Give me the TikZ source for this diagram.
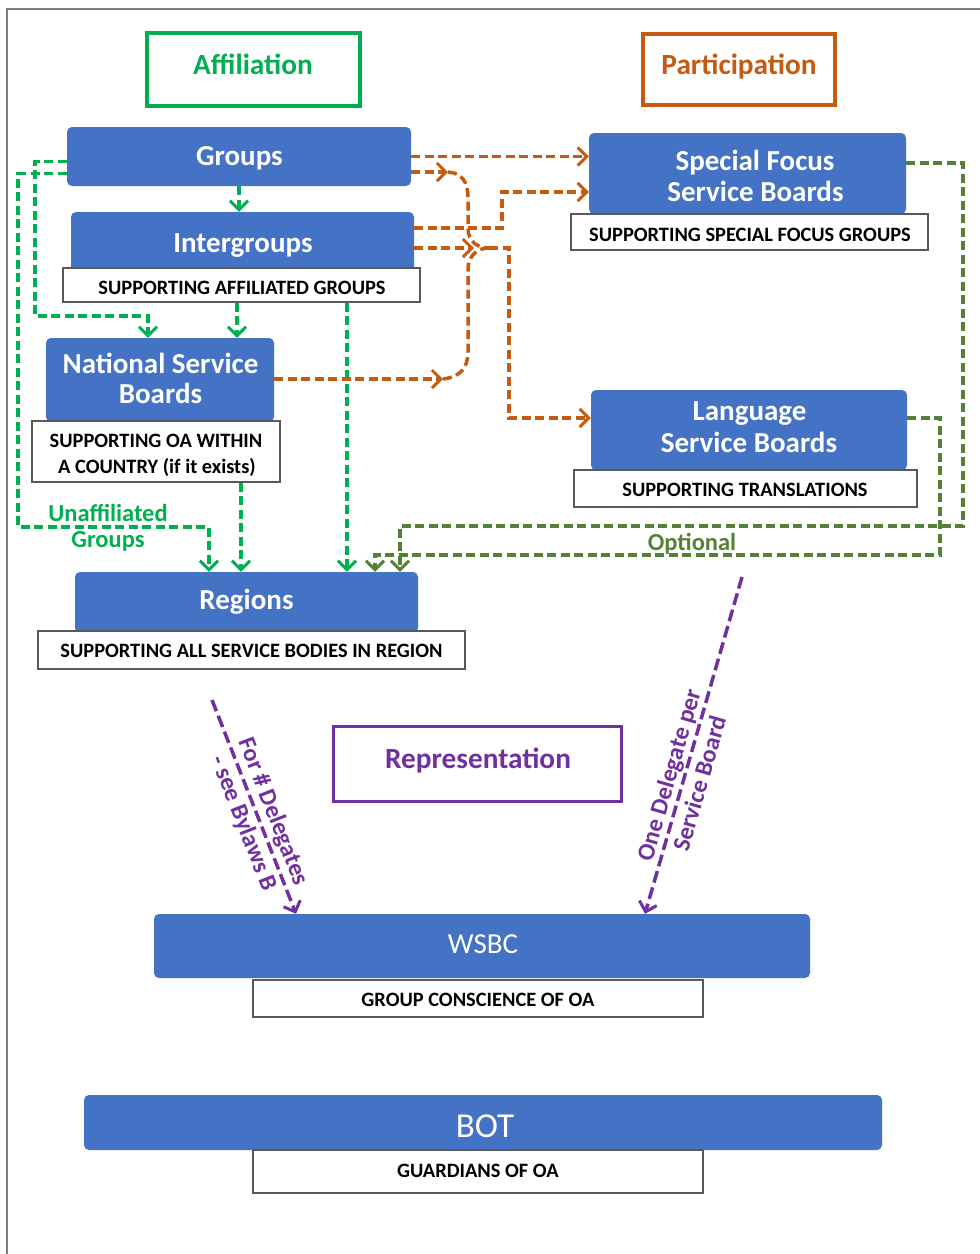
\documentclass[tikz,border=0pt]{standalone}
\usepackage{fontspec}
\setmainfont{Carlito}
\usetikzlibrary{arrows.meta,calc}
\definecolor{boxblue}{HTML}{4472C4}
\definecolor{affgreen}{HTML}{00B050}
\definecolor{optgreen}{HTML}{548235}
\definecolor{partorange}{HTML}{C55A11}
\definecolor{reppurple}{HTML}{7030A0}
\definecolor{labgray}{HTML}{595959}
\definecolor{framegray}{HTML}{808080}
\tikzset{
  bluebox/.style={rectangle, rounded corners=5pt, fill=boxblue, inner sep=0pt},
  bluetext/.style={text=white, font=\fontsize{29}{33}\selectfont\bfseries, anchor=base, inner sep=0pt},
  labelbox/.style={rectangle, draw=labgray, line width=1.2pt, fill=white, inner sep=0pt},
  labeltext/.style={text=black, font=\fontsize{20.4}{26}\selectfont\bfseries, anchor=base, inner sep=0pt},
  headbox/.style={rectangle, line width=3.2pt, fill=white, inner sep=0pt},
  headtext/.style={font=\fontsize{29.3}{33}\selectfont\bfseries, anchor=base, inner sep=0pt},
  tipv/.style={-{Straight Barb[length=9pt,width=18pt,line width=3pt]}},
  gline/.style={draw=affgreen, line width=3.5pt, dash pattern=on 9pt off 4.5pt},
  oline/.style={draw=optgreen, line width=3.5pt, dash pattern=on 9pt off 4.5pt},
  rline/.style={draw=partorange, line width=3.5pt, dash pattern=on 9pt off 4.5pt},
  pline/.style={draw=reppurple, line width=3.5pt, dash pattern=on 12pt off 5pt},
  ptext/.style={text=reppurple, font=\fontsize{24.5}{32}\selectfont\bfseries, align=center, inner sep=0pt},
}
\begin{document}
\begin{tikzpicture}[x=1pt,y=-1pt]
\useasboundingbox (0,0) rectangle (980,1254);
\fill[white] (0,0) rectangle (980,1254);
% page frame
\draw[framegray, line width=1.5pt] (7,1254) -- (7,9) -- (980,9);

% header boxes
\node[headbox, draw=affgreen, minimum width=213, minimum height=73] (aff) at (253.5,69.5) {};
\node[headtext, text=affgreen] (afft) at (253,74) {Affiliation};
\node[headbox, draw=partorange, minimum width=192, minimum height=71] (part) at (739,69.5) {};
\node[headtext, text=partorange] (partt) at (739,74) {Participation};
\node[headbox, draw=reppurple, line width=3pt, minimum width=288, minimum height=75] (rep) at (477,763.5) {};
\node[headtext, text=reppurple] (rept) at (478,768) {Representation};

% blue boxes
\node[bluebox, minimum width=344, minimum height=59] (groups) at (239,156.5) {};
\node[bluetext] (groupst) at (239.5,165.5) {Groups};
\node[bluebox, minimum width=343, minimum height=60] (inter) at (242.5,242) {};
\node[bluetext] (intert) at (243,252) {Intergroups};
\node[bluebox, minimum width=228, minimum height=84] (nsb) at (160,380) {};
\node[bluetext] (nsbt1) at (160.5,373) {National Service};
\node[bluetext] (nsbt2) at (160.5,403) {Boards};
\node[bluebox, minimum width=343, minimum height=61] (regions) at (246.5,602.5) {};
\node[bluetext] (regionst) at (246.5,609) {Regions};
\node[bluebox, minimum width=317, minimum height=81] (sfsb) at (747.5,173.5) {};
\node[bluetext] (sfsbt1) at (755,170) {Special Focus};
\node[bluetext] (sfsbt2) at (755.5,201) {Service Boards};
\node[bluebox, minimum width=316, minimum height=80] (lsb) at (749,430) {};
\node[bluetext] (lsbt1) at (749.5,420) {Language};
\node[bluetext] (lsbt2) at (749,452) {Service Boards};
\node[bluebox, minimum width=656, minimum height=64] (wsbc) at (482,946) {};
\node[bluetext, font=\fontsize{29}{33}\selectfont] (wsbct) at (483,953) {WSBC};
\node[bluebox, minimum width=798, minimum height=55] (bot) at (483,1122.5) {};
\node[bluetext, font=\fontsize{35}{38}\selectfont] (bott) at (485,1137) {BOT};

% label boxes
\node[labelbox, minimum width=357, minimum height=34] (labinter) at (241.5,285) {};
\node[labeltext] (labintert) at (242,294) {SUPPORTING AFFILIATED GROUPS};
\node[labelbox, minimum width=248, minimum height=61] (labnsb) at (156,451.5) {};
\node[labeltext] (labnsbt1) at (156,447) {SUPPORTING OA WITHIN};
\node[labeltext] (labnsbt2) at (157,473) {A COUNTRY (if it exists)};
\node[labelbox, minimum width=427, minimum height=38] (labreg) at (251.5,650) {};
\node[labeltext] (labregt) at (251.5,657) {SUPPORTING ALL SERVICE BODIES IN REGION};
\node[labelbox, minimum width=357, minimum height=36] (labsf) at (749.5,232) {};
\node[labeltext] (labsft) at (750,241) {SUPPORTING SPECIAL FOCUS GROUPS};
\node[labelbox, minimum width=343, minimum height=37] (lablang) at (745.5,488.5) {};
\node[labeltext] (lablangt) at (745,496) {SUPPORTING TRANSLATIONS};
\node[labelbox, minimum width=450, minimum height=37] (labwsbc) at (478,998.5) {};
\node[labeltext] (labwsbct) at (478,1006) {GROUP CONSCIENCE OF OA};
\node[labelbox, minimum width=450, minimum height=43] (labbot) at (478,1171.5) {};
\node[labeltext] (labbott) at (478,1177) {GUARDIANS OF OA};

% helper coordinates
\coordinate (x148) at (148,0);
\coordinate (x209) at (209,0);
\coordinate (x237) at (237,0);
\coordinate (x241) at (241,0);
\coordinate (x347) at (347,0);
\coordinate (x375) at (375,0);
\coordinate (x400) at (400,0);
\coordinate (x296) at (296,0);
\coordinate (x645) at (645,0);

% green affiliation connectors
\draw[gline, tipv] (groups.south) -- (groups.south |- inter.north);
\draw[gline, tipv] ($(groups.west)+(0,5)$) -| (35,316) -| (x148 |- nsb.north);
\draw[gline, tipv] ($(groups.west)+(0,17)$) -| (18,527) -| (x209 |- regions.north);
\draw[gline, tipv] (x237 |- labinter.south) -- (x237 |- nsb.north);
\draw[gline, tipv] (x347 |- labinter.south) -- (x347 |- regions.north);
\draw[gline, tipv] (x241 |- labnsb.south) -- (x241 |- regions.north);
\node[text=affgreen, font=\fontsize{24.5}{26}\selectfont\bfseries, align=center, inner sep=0pt] (unaff) at (108,528) {Unaffiliated\\Groups};

% optional (dark green) connectors
\draw[oline, tipv] ($(sfsb.east)+(0,-10.5)$) -| (963,526) -| (x400 |- regions.north);
\draw[oline, tipv] ($(lsb.east)+(0,-12)$) -| (940,555) -| (x375 |- regions.north);
\node[text=optgreen, font=\fontsize{24.5}{30}\selectfont\bfseries, inner sep=0pt] (optlab) at (692,544) {Optional};

% orange participation connectors
\coordinate (k1) at (502,192);
\coordinate (k2) at (509,418);
\coordinate (j) at (489,248);
\coordinate (tipa) at (448,172);
\coordinate (tipb) at (474,248);
\coordinate (tipc) at (443,379);
\draw[rline, tipv] (groups.east) -- (sfsb.west |- groups.east);
\draw[rline, tipv] ($(groups.east)+(0,15.5)$) -- (tipa);
\draw[rline, tipv] ($(inter.east)+(0,-14)$) -| (k1) -- (k1 -| sfsb.west);
\draw[rline, tipv] ($(inter.east)+(0,6)$) -- (tipb);
\draw[rline, tipv] ($(nsb.east)+(0,-1)$) -- (tipc);
\draw[rline] (tipa) .. controls (462,173) and (468,182) .. (468,198) -- (468,228) .. controls (468,242) and (478,248) .. (j);
\draw[rline] (tipc) .. controls (460,377) and (468,368) .. (468,352) -- (468,270) .. controls (468,255) and (478,248) .. (j);
\draw[rline, tipv] (j) -- (509,248) -- (k2) -- (k2 -| lsb.west);

% purple representation connectors
\coordinate (pa) at (212,700);
\coordinate (pb) at (742,577);
\draw[pline, tipv] (pa) -- (x296 |- wsbc.north)
  node[ptext, pos=0.55, rotate=-68.6] (plab1) {For \# Delegates\\- see Bylaws B};
\draw[pline, tipv] (pb) -- (x645 |- wsbc.north)
  node[ptext, pos=0.6, rotate=73.9] (plab2) {One Delegate per\\Service Board};
\end{tikzpicture}
\end{document}
